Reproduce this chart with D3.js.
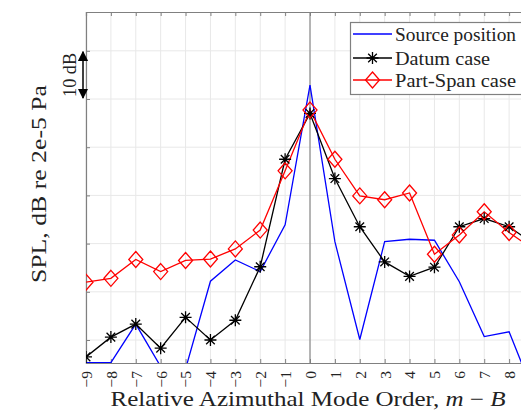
<!DOCTYPE html>
<html><head><meta charset="utf-8">
<script src="https://cdn.jsdelivr.net/npm/d3@7/dist/d3.min.js"></script>
<style>body{margin:0;background:#fff}svg{display:block}text{font-family:"Liberation Serif","DejaVu Serif",serif;fill:#222}</style>
</head><body>
<script>
const modes = [-9,-8,-7,-6,-5,-4,-3,-2,-1,0,1,2,3,4,5,6,7,8,9];
const sourcePosition = [35.3,35.3,43.3,34.5,34.0,52.2,56.6,54.2,63.9,92.9,60.4,40.1,60.4,60.9,60.7,52.1,40.7,41.7,28.8];
const datumCase = [36.5,40.6,43.3,38.3,44.7,40.0,44.1,55.2,77.5,87.0,73.5,63.5,56.2,53.2,55.1,63.5,65.2,63.5,59.9];
const partSpanCase = [52.0,52.8,56.7,54.2,56.5,56.8,58.9,62.8,75.1,87.7,77.5,69.9,69.1,70.5,57.8,61.8,66.6,62.3,58.7];
const xTickLabels = ["\u22129","\u22128","\u22127","\u22126","\u22125","\u22124","\u22123","\u22122","\u22121","0","1","2","3","4","5","6","7","8"];
const xTickLabelValues = [-9,-8,-7,-6,-5,-4,-3,-2,-1,0,1,2,3,4,5,6,7,8];
const yGridValues = [40,50,60,70,80,90,100];
const legendLabels = ["Source position","Datum case","Part-Span case"];

const W=521,H=415;
const m={l:86,t:12,r:534,b:363};
const svg=d3.select("body").append("svg").attr("width",W).attr("height",H);
const x=d3.scaleLinear().domain([-9,9]).range([m.l,m.r]);
const y=d3.scaleLinear().domain([35.23,108.05]).range([m.b,m.t]);

// grid
const g=svg.append("g");
g.selectAll("line.vx").data(modes).join("line").attr("x1",d=>x(d)).attr("x2",d=>x(d)).attr("y1",m.t).attr("y2",m.b).attr("stroke","#e8e8e8").attr("stroke-width",1);
g.selectAll("line.hy").data(yGridValues).join("line").attr("y1",d=>y(d)).attr("y2",d=>y(d)).attr("x1",m.l).attr("x2",m.r).attr("stroke","#e8e8e8").attr("stroke-width",1);
// zero reference line
svg.append("line").attr("x1",x(0)).attr("x2",x(0)).attr("y1",m.t).attr("y2",m.b).attr("stroke","#777").attr("stroke-width",1);

// axes
const axB=svg.append("g").attr("transform",`translate(0,${m.b})`).call(d3.axisBottom(x).tickValues(xTickLabelValues).tickSize(-4).tickFormat((d,i)=>xTickLabels[i]));
const axT=svg.append("g").attr("transform",`translate(0,${m.t})`).call(d3.axisTop(x).tickValues(modes).tickSize(-4).tickFormat(""));
const axL=svg.append("g").attr("transform",`translate(${m.l},0)`).call(d3.axisLeft(y).tickValues(yGridValues).tickSize(-4).tickFormat(""));
[axB,axT,axL].forEach(a=>{a.select(".domain").attr("stroke","#808080").attr("stroke-width",1.2);a.selectAll(".tick line").attr("stroke","#808080");});
axB.selectAll(".tick text").attr("transform","rotate(-90)").attr("text-anchor","end").attr("x",-8).attr("y",0).attr("dy","0.35em")
  .style("font-family",'"Liberation Serif",serif').style("font-size","15.5px").attr("fill","#222");

// clip
svg.append("clipPath").attr("id","clip").append("rect").attr("x",m.l).attr("y",m.t).attr("width",m.r-m.l).attr("height",m.b-m.t);
const plot=svg.append("g").attr("clip-path","url(#clip)");
const line=d3.line().x((d,i)=>x(modes[i])).y(d=>y(d));
plot.append("path").datum(sourcePosition).attr("d",line).attr("fill","none").attr("stroke","#0000ff").attr("stroke-width",1.3);
plot.append("path").datum(datumCase).attr("d",line).attr("fill","none").attr("stroke","#000").attr("stroke-width",1.3);
plot.append("path").datum(partSpanCase).attr("d",line).attr("fill","none").attr("stroke","#ff0000").attr("stroke-width",1.3);

function star(sel,s){ // asterisk marker
  const r=s/2,q=r*0.72;
  sel.append("path").attr("d",`M${-r},0L${r},0M0,${-r}L0,${r}M${-q},${-q}L${q},${q}M${-q},${q}L${q},${-q}`).attr("stroke","#000").attr("stroke-width",1.3).attr("fill","none");
}
function diamond(sel,w,h){
  sel.append("path").attr("d",`M0,${-h/2}L${w/2},0L0,${h/2}L${-w/2},0Z`).attr("stroke","#ff0000").attr("stroke-width",1.3).attr("fill","none");
}
plot.selectAll("g.st").data(datumCase).join("g").attr("transform",(d,i)=>`translate(${x(modes[i])},${y(d)})`).each(function(){star(d3.select(this),12);});
plot.selectAll("g.dm").data(partSpanCase).join("g").attr("transform",(d,i)=>`translate(${x(modes[i])},${y(d)})`).each(function(){diamond(d3.select(this),14,16);});

// legend
const lg=svg.append("g");
lg.append("rect").attr("x",350.5).attr("y",22.5).attr("width",200).attr("height",72).attr("fill","#fff").attr("stroke","#808080").attr("stroke-width",1.2);
const rowsY=[34,58,80];
const legendWidths=[121,95,121];
const colors=["#0000ff","#000","#ff0000"];
legendLabels.forEach((t,i)=>{
  lg.append("line").attr("x1",353).attr("x2",392).attr("y1",rowsY[i]).attr("y2",rowsY[i]).attr("stroke",colors[i]).attr("stroke-width",1.3);
  const mk=lg.append("g").attr("transform",`translate(372.5,${rowsY[i]})`);
  if(i===1) star(mk,12); if(i===2) diamond(mk,14,16);
  lg.append("text").attr("x",395).attr("y",rowsY[i]).attr("dy","0.35em").style("font-size","19px")
    .attr("textLength",legendWidths[i]).attr("lengthAdjust","spacingAndGlyphs").text(t);
});

// 10 dB arrow
svg.append("defs").html('<marker id="ah" viewBox="0 0 10 10" refX="9" refY="5" markerWidth="7" markerHeight="8" orient="auto-start-reverse"><path d="M0,0L10,5L0,10Z" fill="#000"/></marker>');
svg.append("line").attr("x1",83).attr("x2",83).attr("y1",y(100)+1).attr("y2",y(90)-1).attr("stroke","#000").attr("stroke-width",1.5)
  .attr("marker-start","url(#ah)").attr("marker-end","url(#ah)");
svg.append("text").attr("transform",`translate(75.5,${(y(100)+y(90))/2}) rotate(-90)`).attr("text-anchor","middle").style("font-size","18px")
  .attr("textLength",44).attr("lengthAdjust","spacingAndGlyphs").text("10 dB");

// axis titles
svg.append("text").attr("transform",`translate(46,184) rotate(-90)`).attr("text-anchor","middle").style("font-size","22px")
  .attr("textLength",198).attr("lengthAdjust","spacingAndGlyphs").text("SPL, dB re 2e-5 Pa");
const xt=svg.append("text").attr("x",308).attr("y",406).attr("text-anchor","middle").style("font-size","21px")
  .attr("textLength",395).attr("lengthAdjust","spacingAndGlyphs");
xt.append("tspan").text("Relative Azimuthal Mode Order, ");
xt.append("tspan").style("font-style","italic").text("m");
xt.append("tspan").text(" \u2212 ");
xt.append("tspan").style("font-style","italic").text("B");
</script>
</body></html>
